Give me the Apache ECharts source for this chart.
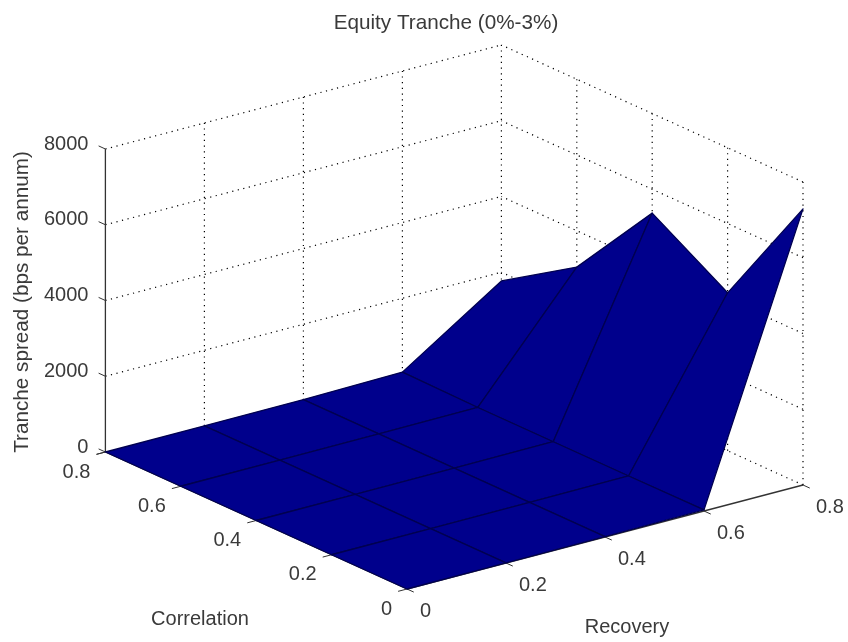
<!DOCTYPE html>
<html>
<head>
<meta charset="utf-8">
<style>html,body{margin:0;padding:0;background:#fff}#chart{width:848px;height:642px}</style>
<script src="https://cdn.jsdelivr.net/npm/echarts@6/dist/echarts.min.js"></script>
</head>
<body>
<div id="chart"></div>
<script>
const chartTitle = 'Equity Tranche (0%-3%)';
const correlationName = 'Correlation';
const recoveryName = 'Recovery';
const spreadName = 'Tranche spread (bps per annum)';
const correlationTicks = [0, 0.2, 0.4, 0.6, 0.8];
const recoveryTicks = [0, 0.2, 0.4, 0.6, 0.8];
const spreadTicks = [0, 2000, 4000, 6000, 8000];
// spread (bps) per correlation, one list per recovery level
const spreadAtRecovery00 = [0, 0, 0, 0, 0];
const spreadAtRecovery02 = [5, 5, 5, 5, 5];
const spreadAtRecovery04 = [10, 10, 10, 10, 10];
const spreadAtRecovery06 = [30, 20, 20, 20, 50];
const spreadAtRecovery08 = [7290, 4170, 5370, 3040, 1770];
const surface = [spreadAtRecovery00, spreadAtRecovery02, spreadAtRecovery04, spreadAtRecovery06, spreadAtRecovery08];

const FONT = '"Liberation Sans", Arial, sans-serif';
const FS = 20;
const FS_LONG = 20.7;
const TEXT = '#3a3a3a';

// fixed MATLAB-style orthographic view
function project(c, r, z) {
  return [407 - c * 377 + r * 495, 589 - c * 171.25 - r * 130 - z * 303 / 8000];
}
const cMax = correlationTicks[correlationTicks.length - 1];
const rMax = recoveryTicks[recoveryTicks.length - 1];
const zMax = spreadTicks[spreadTicks.length - 1];

const dotted = [];
spreadTicks.forEach(z => {
  if (z > 0) dotted.push([cMax, 0, z, cMax, rMax, z]);
  dotted.push([0, rMax, z, cMax, rMax, z]);
});
recoveryTicks.forEach(r => { if (r > 0) dotted.push([cMax, r, 0, cMax, r, zMax]); });
correlationTicks.forEach(c => { if (c < cMax) dotted.push([c, rMax, 0, c, rMax, zMax]); });

const quads = [];
for (let i = 0; i < recoveryTicks.length - 1; i++) {
  for (let j = 0; j < correlationTicks.length - 1; j++) quads.push([i, j]);
}
const depth = q => 34.25 * correlationTicks[q[1]] + 26 * recoveryTicks[q[0]];
quads.sort((a, b) => depth(b) - depth(a));

const axisLines = [
  [cMax, 0, 0, cMax, 0, zMax],
  [0, 0, 0, 0, rMax, 0],
  [0, 0, 0, cMax, 0, 0]
];

const texts = [];
spreadTicks.forEach(z => {
  const p = project(cMax, 0, z);
  texts.push({ t: String(z), x: p[0] - 17, y: p[1] - 5, a: 'right' });
});
correlationTicks.forEach(c => {
  const p = project(c, 0, 0);
  texts.push({ t: String(c), x: p[0] - 15, y: p[1] + 20, a: 'right' });
});
recoveryTicks.forEach(r => {
  const p = project(0, r, 0);
  texts.push({ t: String(r), x: p[0] + 13, y: p[1] + 22, a: 'left' });
});
texts.push({ t: correlationName, x: 200, y: 619, a: 'center' });
texts.push({ t: recoveryName, x: 627, y: 627, a: 'center' });
texts.push({ t: spreadName, x: 22, y: 302, a: 'center', rot: Math.PI / 2, fs: FS_LONG });

function segment(color, width, dash) {
  return function (params, api) {
    const a = api.coord(project(api.value(0), api.value(1), api.value(2)));
    const b = api.coord(project(api.value(3), api.value(4), api.value(5)));
    return {
      type: 'line',
      shape: { x1: a[0], y1: a[1], x2: b[0], y2: b[1] },
      style: { stroke: color, lineWidth: width, lineDash: dash || null, fill: null }
    };
  };
}

function tickItem(params, api) {
  const p = api.coord(project(api.value(0), api.value(1), api.value(2)));
  const q = api.coord(project(api.value(0) + api.value(3), api.value(1) + api.value(4), api.value(2)));
  return {
    type: 'line',
    shape: { x1: p[0], y1: p[1], x2: q[0], y2: q[1] },
    style: { stroke: '#333', lineWidth: 1, fill: null }
  };
}
const tickLen = 0.018;
const ticks = [];
spreadTicks.forEach(z => ticks.push([cMax, 0, z, tickLen, 0]));
ticks.push([cMax, 0, 0, 0, -tickLen]);
correlationTicks.forEach(c => ticks.push([c, 0, 0, 0, -tickLen]));
recoveryTicks.forEach(r => ticks.push([0, r, 0, -tickLen, 0]));

const option = {
  animation: false,
  backgroundColor: '#fff',
  title: {
    text: chartTitle, left: 441, top: 8, textAlign: 'center',
    textStyle: { fontFamily: FONT, fontSize: FS_LONG, fontWeight: 'normal', color: TEXT }
  },
  grid: { left: 0, right: 0, top: 0, bottom: 0 },
  xAxis: { type: 'value', min: 0, max: 848, show: false },
  yAxis: { type: 'value', min: 0, max: 642, inverse: true, show: false },
  series: [
    { type: 'custom', silent: true, clip: false, renderItem: segment('#000', 1.2, [1.2, 4.5]), data: dotted, z: 1 },
    { type: 'custom', silent: true, clip: false, renderItem: tickItem, data: ticks, z: 2 },
    { type: 'custom', silent: true, clip: false, renderItem: segment('#333', 1.3), data: axisLines, z: 2 },
    {
      type: 'custom', silent: true, clip: false, z: 3, data: quads,
      renderItem: function (params, api) {
        const i = api.value(0), j = api.value(1);
        const corners = [[i, j], [i + 1, j], [i + 1, j + 1], [i, j + 1]];
        const pts = corners.map(k => api.coord(project(correlationTicks[k[1]], recoveryTicks[k[0]], surface[k[0]][k[1]])));
        return {
          type: 'polygon',
          shape: { points: pts },
          style: { fill: '#00008c', stroke: '#000050', lineWidth: 1.3, lineJoin: 'round' }
        };
      }
    },
    {
      type: 'custom', silent: true, clip: false, z: 4, data: texts.map((d, k) => k),
      renderItem: function (params, api) {
        const d = texts[params.dataIndex];
        const p = api.coord([d.x, d.y]);
        return {
          type: 'text', x: p[0], y: p[1], rotation: d.rot || 0,
          style: { text: d.t, font: (d.fs || FS) + 'px ' + FONT, fill: TEXT, align: d.a, verticalAlign: 'middle' }
        };
      }
    }
  ]
};
echarts.init(document.getElementById('chart')).setOption(option);
</script>
</body>
</html>
